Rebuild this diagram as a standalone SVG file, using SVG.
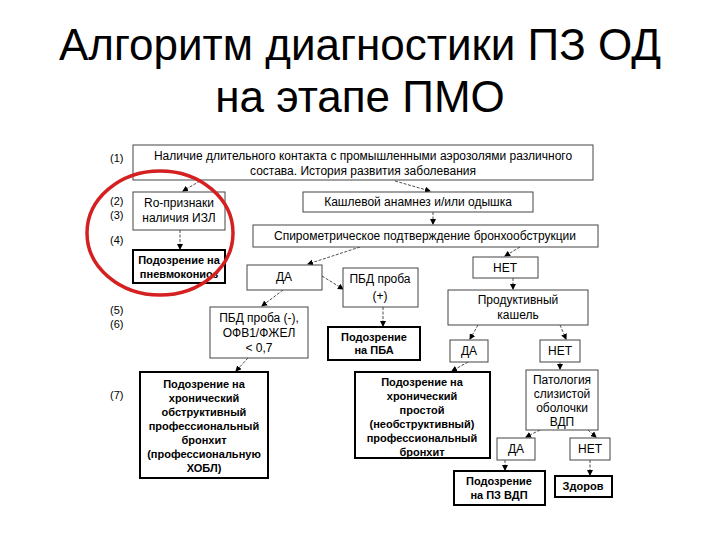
<svg xmlns="http://www.w3.org/2000/svg" width="720" height="540" viewBox="0 0 720 540">
<style>
text{font-family:"Liberation Sans",Arial,sans-serif;fill:#000}
.t{font-size:44px}
.n{font-size:12px;text-anchor:middle}
.b{font-size:11px;font-weight:bold;text-anchor:middle}
.l{font-size:11px}
.box{fill:#fff;stroke:#444;stroke-width:1}
.bb{fill:#fff;stroke:#000;stroke-width:2}
.c line{stroke:#222;stroke-width:0.8;stroke-dasharray:3 1.5;marker-end:url(#a)}
</style>
<defs><marker id="a" markerWidth="6" markerHeight="6" refX="5" refY="3" orient="auto" markerUnits="userSpaceOnUse"><path d="M0,0 L6,3 L0,6z" fill="#000"/></marker></defs>
<rect width="720" height="540" fill="#fff"/>
<text class="t" x="360" y="60" text-anchor="middle">Алгоритм диагностики ПЗ ОД</text>
<text class="t" x="360" y="112" text-anchor="middle">на этапе ПМО</text>
<g id="labels">
<text class="l" x="110" y="162">(1)</text>
<text class="l" x="110" y="205">(2)</text>
<text class="l" x="110" y="219">(3)</text>
<text class="l" x="110" y="244">(4)</text>
<text class="l" x="110" y="314">(5)</text>
<text class="l" x="110" y="328">(6)</text>
<text class="l" x="110" y="399">(7)</text>
</g>
<g class="c">
<line x1="200" y1="181" x2="183" y2="191"/>
<line x1="395" y1="181" x2="430" y2="191"/>
<line x1="433" y1="212" x2="433" y2="224"/>
<line x1="180" y1="230" x2="180" y2="249"/>
<line x1="360" y1="247" x2="308" y2="264"/>
<line x1="520" y1="247" x2="505" y2="256"/>
<line x1="322" y1="276" x2="343" y2="289"/>
<line x1="283" y1="290" x2="262" y2="306"/>
<line x1="383" y1="307" x2="383" y2="326"/>
<line x1="513" y1="278" x2="513" y2="289"/>
<line x1="478" y1="325" x2="470" y2="339"/>
<line x1="560" y1="325" x2="566" y2="339"/>
<line x1="248" y1="358" x2="236" y2="371"/>
<line x1="468" y1="362" x2="452" y2="371"/>
<line x1="560" y1="362" x2="560" y2="369"/>
<line x1="540" y1="430" x2="526" y2="437"/>
<line x1="588" y1="430" x2="596" y2="437"/>
<line x1="505" y1="460" x2="505" y2="470"/>
<line x1="590" y1="460" x2="590" y2="475"/>
</g>
<g id="n1"><rect class="box" x="133" y="145" width="460" height="35"/><text class="n" x="363" y="160">Наличие длительного контакта с промышленными аэрозолями различного</text><text class="n" x="363" y="175">состава. История развития заболевания</text></g>
<g id="n2"><rect class="box" x="133" y="192" width="92" height="38"/><text class="n" x="179" y="207">Ro-признаки</text><text class="n" x="179" y="222">наличия ИЗЛ</text></g>
<g id="n3"><rect class="box" x="303" y="192" width="230" height="20"/><text class="n" x="418" y="206">Кашлевой анамнез и/или одышка</text></g>
<g id="n4"><rect class="box" x="253" y="225" width="345" height="22"/><text class="n" x="425" y="240">Спирометрическое подтверждение бронхообструкции</text></g>
<g id="n5"><rect class="bb" x="133" y="250" width="92" height="33"/><text class="b" x="179" y="264">Подозрение на</text><text class="b" x="179" y="278">пневмокониоз</text></g>
<g id="n6"><rect class="box" x="247" y="265" width="75" height="25"/><text class="n" x="284" y="281">ДА</text></g>
<g id="n7"><rect class="box" x="343" y="268" width="75" height="39"/><text class="n" x="380" y="283">ПБД проба</text><text class="n" x="380" y="300">(+)</text></g>
<g id="n8"><rect class="box" x="473" y="257" width="65" height="21"/><text class="n" x="505" y="272">НЕТ</text></g>
<g id="n9"><rect class="box" x="448" y="290" width="140" height="35"/><text class="n" x="518" y="304">Продуктивный</text><text class="n" x="518" y="319">кашель</text></g>
<g id="n10"><rect class="box" x="210" y="307" width="98" height="51"/><text class="n" x="259" y="322">ПБД проба (-),</text><text class="n" x="259" y="337">ОФВ1/ФЖЕЛ</text><text class="n" x="259" y="352">&lt; 0,7</text></g>
<g id="n11"><rect class="bb" x="328" y="327" width="92" height="33"/><text class="b" x="374" y="341">Подозрение</text><text class="b" x="374" y="354">на ПБА</text></g>
<g id="n12"><rect class="box" x="450" y="340" width="38" height="22"/><text class="n" x="469" y="355">ДА</text></g>
<g id="n13"><rect class="box" x="540" y="340" width="40" height="22"/><text class="n" x="560" y="355">НЕТ</text></g>
<g id="n14"><rect class="bb" x="140" y="372" width="128" height="106"/><text class="b" x="204" y="388">Подозрение на</text><text class="b" x="204" y="402">хронический</text><text class="b" x="204" y="416">обструктивный</text><text class="b" x="204" y="430">профессиональный</text><text class="b" x="204" y="444">бронхит</text><text class="b" x="204" y="458">(профессиональную</text><text class="b" x="204" y="472">ХОБЛ)</text></g>
<g id="n15"><rect class="bb" x="355" y="372" width="135" height="86"/><text class="b" x="422" y="386">Подозрение на</text><text class="b" x="422" y="400">хронический</text><text class="b" x="422" y="414">простой</text><text class="b" x="422" y="428">(необструктивный)</text><text class="b" x="422" y="442">профессиональный</text><text class="b" x="422" y="456">бронхит</text></g>
<g id="n16"><rect class="box" x="526" y="370" width="72" height="60"/><text class="n" x="562" y="384" font-size="11">Патология</text><text class="n" x="562" y="398" font-size="11">слизистой</text><text class="n" x="562" y="412" font-size="11">оболочки</text><text class="n" x="562" y="426" font-size="11">ВДП</text></g>
<g id="n17"><rect class="box" x="497" y="438" width="38" height="22"/><text class="n" x="516" y="453">ДА</text></g>
<g id="n18"><rect class="box" x="570" y="438" width="40" height="22"/><text class="n" x="590" y="453">НЕТ</text></g>
<g id="n19"><rect class="bb" x="454" y="471" width="91" height="34"/><text class="b" x="499" y="485">Подозрение</text><text class="b" x="499" y="499">на ПЗ ВДП</text></g>
<g id="n20"><rect class="bb" x="555" y="476" width="57" height="21"/><text class="b" x="583" y="490">Здоров</text></g>
<ellipse cx="160" cy="233" rx="73" ry="62" fill="none" stroke="#d42020" stroke-width="3.5"/>
</svg>
